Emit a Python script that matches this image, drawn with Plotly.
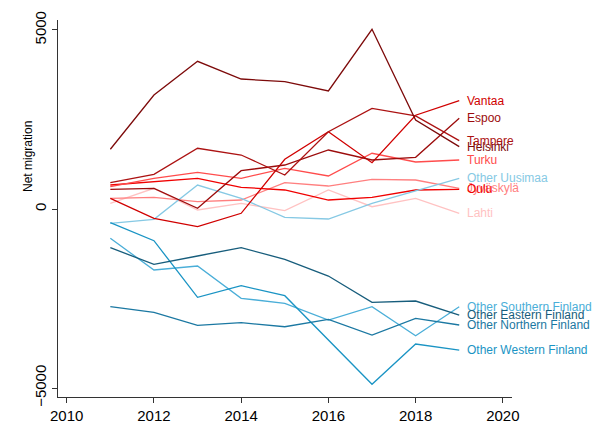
import plotly.graph_objects as go

years = [2011, 2012, 2013, 2014, 2015, 2016, 2017, 2018, 2019]

helsinki = [1668, 3184, 4126, 3631, 3556, 3296, 5020, 2486, 1741]
espoo = [550, 578, 20, 1070, 1229, 1648, 1369, 1444, 2533]
tampere = [735, 969, 1696, 1508, 950, 2160, 2812, 2600, 1908]
vantaa = [299, -260, -494, -120, 1388, 2160, 1294, 2620, 3026]
turku = [623, 857, 1025, 857, 1137, 922, 1556, 1313, 1369]
oulu = [670, 763, 857, 606, 531, 251, 327, 531, 550]
jyvaskyla = [299, 327, 204, 251, 735, 642, 830, 810, 578]
lahti = [159, 578, -28, 159, -47, 531, 64, 299, -120]
other_uusimaa = [-400, -288, 670, 299, -232, -279, 159, 511, 858]
other_southern = [-819, -1704, -1592, -2494, -2634, -3101, -2729, -3539, -2729]
other_western = [-383, -885, -2466, -2142, -2421, -3660, -4897, -3771, -3939]
other_northern = [-2729, -2886, -3249, -3176, -3288, -3081, -3520, -3054, -3240]
other_eastern = [-1081, -1545, -1313, -1081, -1405, -1872, -2606, -2570, -2961]

series = [
    ("Lahti", lahti, "#ffc2c2"),
    ("Jyväskylä", jyvaskyla, "#ff7f7f"),
    ("Oulu", oulu, "#f00000"),
    ("Turku", turku, "#ff4c4c"),
    ("Other Uusimaa", other_uusimaa, "#86c9e4"),
    ("Vantaa", vantaa, "#d00000"),
    ("Espoo", espoo, "#9c0c0c"),
    ("Tampere", tampere, "#ac1212"),
    ("Helsinki", helsinki, "#7d0a0a"),
    ("Other Southern Finland", other_southern, "#4aaed8"),
    ("Other Western Finland", other_western, "#1a94c4"),
    ("Other Northern Finland", other_northern, "#1b78a2"),
    ("Other Eastern Finland", other_eastern, "#175d7c"),
]

FONT = "Liberation Sans, Arial, sans-serif"

fig = go.Figure()
for name, vals, col in series:
    fig.add_trace(go.Scatter(x=years, y=vals, mode="lines", name=name,
                             line=dict(color=col, width=1.3), showlegend=False))
    fig.add_annotation(x=years[-1], y=vals[-1], text=name, showarrow=False,
                       xanchor="left", yanchor="middle", xshift=6,
                       font=dict(family=FONT, size=12, color=col))

fig.add_annotation(xref="paper", x=0, xshift=-30, yref="y", y=1452, text="Net migration",
                   textangle=-90, showarrow=False, xanchor="center", yanchor="middle",
                   font=dict(family=FONT, size=12, color="black"))

fig.update_layout(
    template="none",
    width=596, height=423,
    margin=dict(l=58, r=84, t=20, b=26, autoexpand=False),
    plot_bgcolor="white", paper_bgcolor="white",
    font=dict(family=FONT, size=15, color="black"),
)
fig.update_xaxes(range=[2009.80, 2020.21], tickvals=[2010, 2012, 2014, 2016, 2018, 2020],
                 automargin=False, showgrid=False, zeroline=False, showline=True,
                 linecolor="#333", linewidth=1, ticks="outside", ticklen=5, tickcolor="#333")
fig.update_yaxes(range=[-5251, 5279], tickvals=[-5000, 0, 5000], tickangle=-90,
                 automargin=False, showgrid=False, zeroline=False, showline=True,
                 linecolor="#333", linewidth=1, ticks="outside", ticklen=5, tickcolor="#333")

fig.write_html("out.html", config={"displayModeBar": False},
               post_script="document.body.style.margin='0';document.body.style.overflow='hidden';")
